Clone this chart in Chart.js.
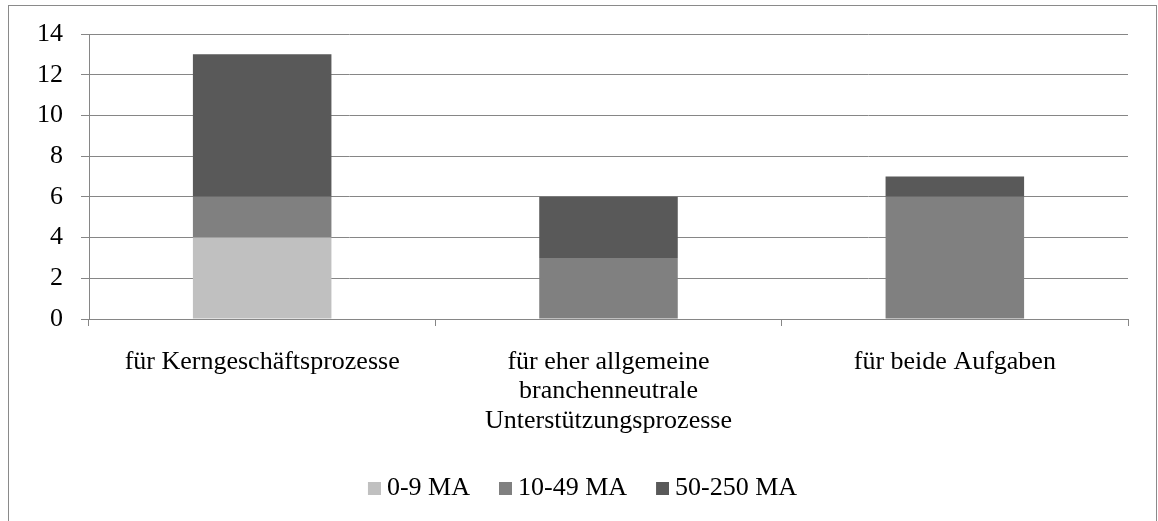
<!DOCTYPE html>
<html>
<head>
<meta charset="utf-8">
<script src="https://cdn.jsdelivr.net/npm/chart.js@4.4.1/dist/chart.umd.min.js"></script>
<style>
  html, body { margin: 0; padding: 0; background: #fff; }
  #wrap { position: relative; width: 1158px; height: 521px; }
  canvas { display: block; }
</style>
</head>
<body>
<div id="wrap"><canvas id="chart" width="1158" height="521"></canvas></div>
<script>
// Categories (multi-line labels as arrays)
const categories = [
  "für Kerngeschäftsprozesse",
  ["für eher allgemeine", "branchenneutrale", "Unterstützungsprozesse"],
  "für beide Aufgaben"
];
const seriesNames = ["0-9 MA", "10-49 MA", "50-250 MA"];
const seriesSmall = [4, 0, 0];   // 0-9 MA
const seriesMedium = [2, 3, 6];  // 10-49 MA
const seriesLarge = [7, 3, 1];   // 50-250 MA
const yTickValues = [0, 2, 4, 6, 8, 10, 12, 14];

const colors = ["#c0c0c0", "#808080", "#595959"];
const gridColor = "#868686";
const font = { family: "'Liberation Serif', 'Times New Roman', serif", size: 26 };

// Small square legend swatch, offset to the right inside a wider canvas
function makeSwatch(color) {
  const c = document.createElement("canvas");
  c.width = 27; c.height = 13;
  const g = c.getContext("2d");
  g.fillStyle = color;
  g.fillRect(14, 0, 13, 13);
  return c;
}
const swatches = colors.map(makeSwatch);

// White background and the grey frame around the chart
const framePlugin = {
  id: "frame",
  beforeDraw(chart) {
    const ctx = chart.ctx;
    ctx.save();
    ctx.fillStyle = "#fff";
    ctx.fillRect(0, 0, chart.width, chart.height);
    ctx.strokeStyle = "#8a8a8a";
    ctx.lineWidth = 1;
    ctx.strokeRect(8.5, 5.5, 1148, 530);
    ctx.restore();
  }
};

new Chart(document.getElementById("chart"), {
  type: "bar",
  data: {
    labels: categories,
    datasets: [
      { label: seriesNames[0], data: seriesSmall, backgroundColor: colors[0] },
      { label: seriesNames[1], data: seriesMedium, backgroundColor: colors[1] },
      { label: seriesNames[2], data: seriesLarge, backgroundColor: colors[2] }
    ]
  },
  options: {
    responsive: false,
    animation: false,
    events: [],
    layout: { padding: { top: 34, left: 0, right: 0, bottom: 10 } },
    datasets: { bar: { categoryPercentage: 1, barPercentage: 0.4, borderWidth: 0 } },
    scales: {
      x: {
        stacked: true,
        grid: { offset: true, drawOnChartArea: false, tickLength: 7, color: gridColor, lineWidth: 1 },
        border: { color: gridColor, width: 1 },
        ticks: { font: { ...font, lineHeight: 1.135 }, color: "#000", padding: 21, maxRotation: 0, autoSkip: false },
        afterFit(s) { s.height = 134; }
      },
      y: {
        stacked: true,
        min: 0,
        max: 14,
        ticks: { stepSize: 2, padding: 18, font: font, color: "#000" },
        afterBuildTicks(s) { s.ticks = yTickValues.map(v => ({ value: v })); },
        grid: { color: gridColor, tickLength: 8, lineWidth: 1 },
        border: { color: gridColor, width: 1 },
        afterFit(s) { s.width = 89; }
      },
      yRight: {
        type: "linear",
        position: "right",
        display: true,
        grid: { display: false },
        border: { display: false },
        ticks: { display: false },
        afterFit(s) { s.width = 30; }
      }
    },
    plugins: {
      tooltip: { enabled: false },
      legend: {
        position: "bottom",
        labels: {
          usePointStyle: true,
          boxWidth: 13,
          boxHeight: 13,
          padding: 22,
          color: "#000",
          font: font,
          generateLabels(chart) {
            const items = Chart.defaults.plugins.legend.labels.generateLabels(chart);
            items.forEach((it, i) => { it.pointStyle = swatches[i]; });
            return items;
          }
        }
      }
    }
  },
  plugins: [framePlugin]
});
</script>
</body>
</html>
